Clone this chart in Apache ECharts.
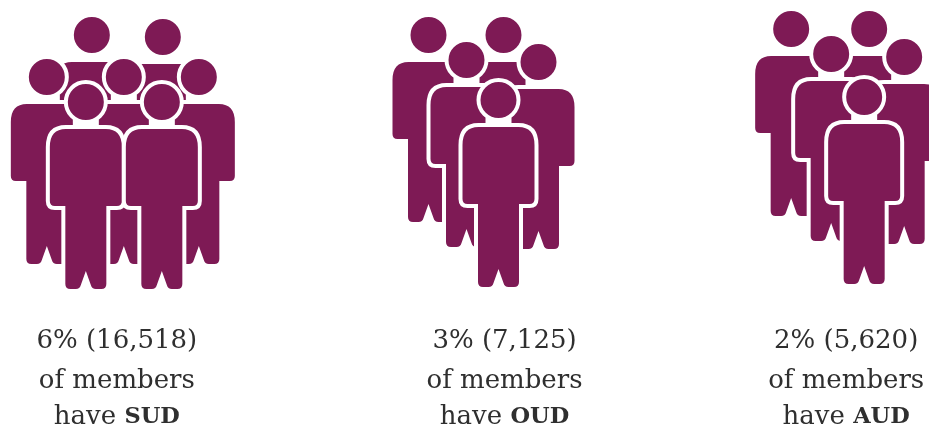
<!DOCTYPE html>
<html>
<head>
<meta charset="utf-8">
<style>html,body{margin:0;padding:0;background:#fff}#chart{width:929px;height:428px}</style>
<script src="https://cdn.jsdelivr.net/npm/echarts@6/dist/echarts.min.js"></script>
</head>
<body>
<div id="chart"></div>
<script>
// Disorder groups and their share of members
const disorders = ['SUD', 'OUD', 'AUD'];
const percents = [6, 3, 2];
const memberCounts = [16518, 7125, 5620];

// Crowd arrangement: head centres [dx, y] drawn back to front, dx from the band centre
const crowds = [
  [[-63, 35], [8, 37], [-108, 77], [-31, 77], [44, 77], [-69, 102], [7, 102]],
  [[-36, 35], [39, 35], [2, 60], [74, 62], [34, 100]],
  [[17, 29], [95, 29], [57, 54], [130, 57], [90, 97]]
];
const captionCentres = [-38, 40, 72];
const captionRows = [341, 381, 417];

const INK = '#7e1a55';
const TEXT = '#2f2f2f';
const HALO = 8;

// One standing person, head centre at the origin
const PERSON =
  'M-18,0A18,18 0 1 0 18,0A18,18 0 1 0 -18,0Z' +
  'M-20,27L20,27Q36,27 36,45L36,99Q36,104 31,104L20.5,104L20.5,182Q20.5,187 15.5,187L10,187Q6,187 5,183L0,169' +
  'L-5,183Q-6,187 -10,187L-15.5,187Q-20.5,187 -20.5,182L-20.5,104L-31,104Q-36,104 -36,99L-36,45Q-36,27 -20,27Z';
// The white surround also closes the neck, so head and shoulders sit on one outline
const NECK = 'M-9,10L9,10L9,32L-9,32Z';
const personShape = { pathData: PERSON, x: -36, y: -18, width: 72, height: 205, layout: 'cover' };
const haloShape = { pathData: PERSON + NECK, x: -36, y: -18, width: 72, height: 205, layout: 'cover' };

const formatCaption = i =>
  percents[i] + '% (' + memberCounts[i].toLocaleString('en-US') + ')';

function renderGroup(params, api) {
  const i = api.value(0);
  const children = [];
  crowds[i].forEach(([dx, y]) => {
    const [cx, cy] = api.coord([i, y]);
    children.push({
      type: 'path', x: cx + dx, y: cy, shape: haloShape,
      style: { fill: '#fff', stroke: '#fff', lineWidth: HALO, lineJoin: 'round' }
    });
    children.push({
      type: 'path', x: cx + dx, y: cy, shape: personShape,
      style: { fill: INK }
    });
  });
  const lines = [formatCaption(i), 'of members', 'have {b|' + disorders[i] + '}'];
  lines.forEach((text, k) => {
    const [cx, cy] = api.coord([i, captionRows[k]]);
    children.push({
      type: 'text', x: cx + captionCentres[i], y: cy,
      style: {
        text, fill: TEXT, align: 'center', verticalAlign: 'middle',
        font: '26px "DejaVu Serif"',
        rich: { b: { fontWeight: 'bold', fontSize: 22.5, fontFamily: 'DejaVu Serif', fill: TEXT } }
      }
    });
  });
  return { type: 'group', children };
}

const chart = echarts.init(document.getElementById('chart'), null, { renderer: 'canvas' });
chart.setOption({
  animation: false,
  backgroundColor: '#fff',
  grid: { left: 0, top: 0, width: 929, height: 428 },
  xAxis: { type: 'category', data: disorders, show: false },
  yAxis: { type: 'value', min: 0, max: 428, inverse: true, show: false },
  series: [{
    type: 'custom',
    clip: false,
    coordinateSystem: 'cartesian2d',
    data: disorders.map((d, i) => [i, percents[i]]),
    encode: { x: 0, y: 1 },
    renderItem: renderGroup
  }]
});
</script>
</body>
</html>
